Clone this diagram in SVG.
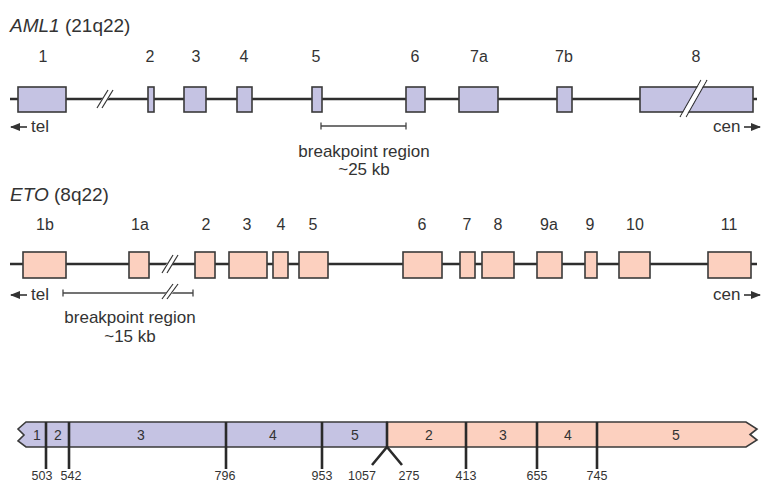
<svg xmlns="http://www.w3.org/2000/svg" width="762" height="483" viewBox="0 0 762 483">
  <style>
    text { font-family: "Liberation Sans", Arial, sans-serif; fill: #333; }
    .title { font-size: 19px; }
    .lbl { font-size: 16px; text-anchor: middle; }
    .side { font-size: 17px; }
    .bp { font-size: 17px; text-anchor: middle; }
    .seg { font-size: 14px; text-anchor: middle; }
    .num { font-size: 12.5px; text-anchor: middle; }
    .aml { fill: #c5c3e3; stroke: #3a3a3a; stroke-width: 1.6; }
    .eto { fill: #fcd0bf; stroke: #3a3a3a; stroke-width: 1.6; }
    .backbone { stroke: #2e2e2e; stroke-width: 2.6; fill: none; }
    .bar { stroke: #444; stroke-width: 1.3; fill: none; }
    .slash { stroke: #333; stroke-width: 1.2; fill: none; }
    .cut { stroke: #fff; stroke-width: 5; }
    .div { stroke: #2a2a2a; stroke-width: 2.6; fill: none; }
    .arr { stroke: #333; stroke-width: 1.6; fill: none; }
  </style>
  <defs>
    <marker id="ah" viewBox="0 0 10 10" refX="9" refY="5" markerWidth="6.5" markerHeight="6.5" orient="auto-start-reverse">
      <path d="M0,1 L10,5 L0,9 Z" fill="#333"/>
    </marker>
  </defs>

  <!-- AML1 locus -->
  <text class="title" x="10" y="32"><tspan font-style="italic">AML1</tspan> (21q22)</text>

  <g id="aml1-connectors">
    <line class="backbone" x1="10" y1="99" x2="757" y2="99"/>
    <!-- break in the intron after exon 1 -->
    <line class="cut" x1="98" y1="108" x2="112" y2="90" stroke-width="6"/>
    <line class="slash" x1="97" y1="108" x2="108" y2="90"/>
    <line class="slash" x1="102" y1="108" x2="113" y2="90"/>
  </g>

  <g id="aml1-exon1"><rect class="aml" x="18" y="87" width="48" height="25"/><text class="lbl" x="43" y="62">1</text></g>
  <g id="aml1-exon2"><rect class="aml" x="148" y="87" width="6" height="25"/><text class="lbl" x="150" y="62">2</text></g>
  <g id="aml1-exon3"><rect class="aml" x="184" y="87" width="22" height="25"/><text class="lbl" x="196" y="62">3</text></g>
  <g id="aml1-exon4"><rect class="aml" x="237" y="87" width="15" height="25"/><text class="lbl" x="244" y="62">4</text></g>
  <g id="aml1-exon5"><rect class="aml" x="312" y="87" width="10" height="25"/><text class="lbl" x="316" y="62">5</text></g>
  <g id="aml1-exon6"><rect class="aml" x="406" y="87" width="19" height="25"/><text class="lbl" x="415" y="62">6</text></g>
  <g id="aml1-exon7a"><rect class="aml" x="459" y="87" width="39" height="25"/><text class="lbl" x="479" y="62">7a</text></g>
  <g id="aml1-exon7b"><rect class="aml" x="557" y="87" width="15" height="25"/><text class="lbl" x="564" y="62">7b</text></g>
  <g id="aml1-exon8">
    <rect class="aml" x="640" y="87" width="113" height="25"/>
    <line class="slash" x1="680" y1="117" x2="701" y2="80"/>
    <line class="slash" x1="686" y1="117" x2="707" y2="80"/>
    <line x1="683" y1="117" x2="704" y2="80" stroke="#fff" stroke-width="4"/>
    <text class="lbl" x="696" y="62">8</text>
  </g>

  <g id="aml1-tel">
    <line class="arr" x1="27" y1="127" x2="11" y2="127" marker-end="url(#ah)"/>
    <text class="side" x="31" y="132">tel</text>
  </g>
  <g id="aml1-cen">
    <text class="side" x="713" y="132">cen</text>
    <line class="arr" x1="744" y1="127" x2="760" y2="127" marker-end="url(#ah)"/>
  </g>

  <g id="aml1-breakpoint">
    <line class="bar" x1="321" y1="126" x2="406" y2="126"/>
    <line class="bar" x1="321" y1="122.5" x2="321" y2="129.5"/>
    <line class="bar" x1="406" y1="122.5" x2="406" y2="129.5"/>
    <text class="bp" x="364" y="157">breakpoint region</text>
    <text class="bp" x="364" y="175">~25 kb</text>
  </g>

  <!-- ETO locus -->
  <text class="title" x="10" y="201"><tspan font-style="italic">ETO</tspan> (8q22)</text>

  <g id="eto-connectors">
    <line class="backbone" x1="10" y1="264" x2="757" y2="264"/>
    <line class="cut" x1="163" y1="272" x2="177" y2="255" stroke-width="6"/>
    <line class="slash" x1="162" y1="273" x2="173" y2="255"/>
    <line class="slash" x1="167" y1="273" x2="178" y2="255"/>
  </g>

  <g id="eto-exon1b"><rect class="eto" x="23" y="252" width="43" height="26"/><text class="lbl" x="45" y="230">1b</text></g>
  <g id="eto-exon1a"><rect class="eto" x="129" y="252" width="20" height="26"/><text class="lbl" x="140" y="230">1a</text></g>
  <g id="eto-exon2"><rect class="eto" x="195" y="252" width="20" height="26"/><text class="lbl" x="206" y="230">2</text></g>
  <g id="eto-exon3"><rect class="eto" x="229" y="252" width="38" height="26"/><text class="lbl" x="247" y="230">3</text></g>
  <g id="eto-exon4"><rect class="eto" x="273" y="252" width="15" height="26"/><text class="lbl" x="281" y="230">4</text></g>
  <g id="eto-exon5"><rect class="eto" x="299" y="252" width="29" height="26"/><text class="lbl" x="313" y="230">5</text></g>
  <g id="eto-exon6"><rect class="eto" x="403" y="252" width="39" height="26"/><text class="lbl" x="422" y="230">6</text></g>
  <g id="eto-exon7"><rect class="eto" x="460" y="252" width="15" height="26"/><text class="lbl" x="467" y="230">7</text></g>
  <g id="eto-exon8"><rect class="eto" x="482" y="252" width="32" height="26"/><text class="lbl" x="498" y="230">8</text></g>
  <g id="eto-exon9a"><rect class="eto" x="537" y="252" width="25" height="26"/><text class="lbl" x="549" y="230">9a</text></g>
  <g id="eto-exon9"><rect class="eto" x="585" y="252" width="12" height="26"/><text class="lbl" x="590" y="230">9</text></g>
  <g id="eto-exon10"><rect class="eto" x="619" y="252" width="31" height="26"/><text class="lbl" x="635" y="230">10</text></g>
  <g id="eto-exon11"><rect class="eto" x="708" y="252" width="43" height="26"/><text class="lbl" x="729" y="230">11</text></g>

  <g id="eto-tel">
    <line class="arr" x1="27" y1="295" x2="11" y2="295" marker-end="url(#ah)"/>
    <text class="side" x="31" y="300">tel</text>
  </g>
  <g id="eto-cen">
    <text class="side" x="713" y="300">cen</text>
    <line class="arr" x1="744" y1="295" x2="760" y2="295" marker-end="url(#ah)"/>
  </g>

  <g id="eto-breakpoint">
    <line class="bar" x1="63" y1="293" x2="193" y2="293"/>
    <line class="bar" x1="63" y1="289.5" x2="63" y2="296.5"/>
    <line class="bar" x1="193" y1="289.5" x2="193" y2="296.5"/>
    <line class="cut" x1="164" y1="299" x2="176" y2="285" stroke-width="5"/>
    <line class="slash" x1="162" y1="299" x2="173" y2="284"/>
    <line class="slash" x1="167" y1="299" x2="178" y2="284"/>
    <text class="bp" x="130" y="323">breakpoint region</text>
    <text class="bp" x="130" y="342">~15 kb</text>
  </g>

  <!-- Fusion transcript -->
  <g id="fusion-aml1">
    <polygon class="aml" points="26,422 387,422 387,447 26,447 18,441 24,435 18,429"/>
    <text class="seg" x="37" y="440">1</text>
    <text class="seg" x="58" y="440">2</text>
    <text class="seg" x="141" y="440">3</text>
    <text class="seg" x="273" y="440">4</text>
    <text class="seg" x="355" y="440">5</text>
  </g>
  <g id="fusion-eto">
    <polygon class="eto" points="387,422 746,422 757,429 750,434.5 757,440 746,447 387,447"/>
    <text class="seg" x="429" y="440">2</text>
    <text class="seg" x="503" y="440">3</text>
    <text class="seg" x="568" y="440">4</text>
    <text class="seg" x="676" y="440">5</text>
  </g>

  <g id="fusion-junctions">
    <line class="div" x1="46" y1="422" x2="46" y2="469"/>
    <line class="div" x1="69" y1="422" x2="69" y2="469"/>
    <line class="div" x1="226" y1="422" x2="226" y2="469"/>
    <line class="div" x1="322" y1="422" x2="322" y2="469"/>
    <line class="div" x1="387" y1="422" x2="387" y2="447"/>
    <polyline class="div" points="372,465 387,447 402,465"/>
    <line class="div" x1="466" y1="422" x2="466" y2="469"/>
    <line class="div" x1="537" y1="422" x2="537" y2="469"/>
    <line class="div" x1="597" y1="422" x2="597" y2="469"/>
  </g>

  <g id="fusion-positions">
    <text class="num" x="42" y="480">503</text>
    <text class="num" x="71" y="480">542</text>
    <text class="num" x="225" y="480">796</text>
    <text class="num" x="322" y="480">953</text>
    <text class="num" x="362" y="480">1057</text>
    <text class="num" x="409" y="480">275</text>
    <text class="num" x="466" y="480">413</text>
    <text class="num" x="537" y="480">655</text>
    <text class="num" x="597" y="480">745</text>
  </g>
</svg>
